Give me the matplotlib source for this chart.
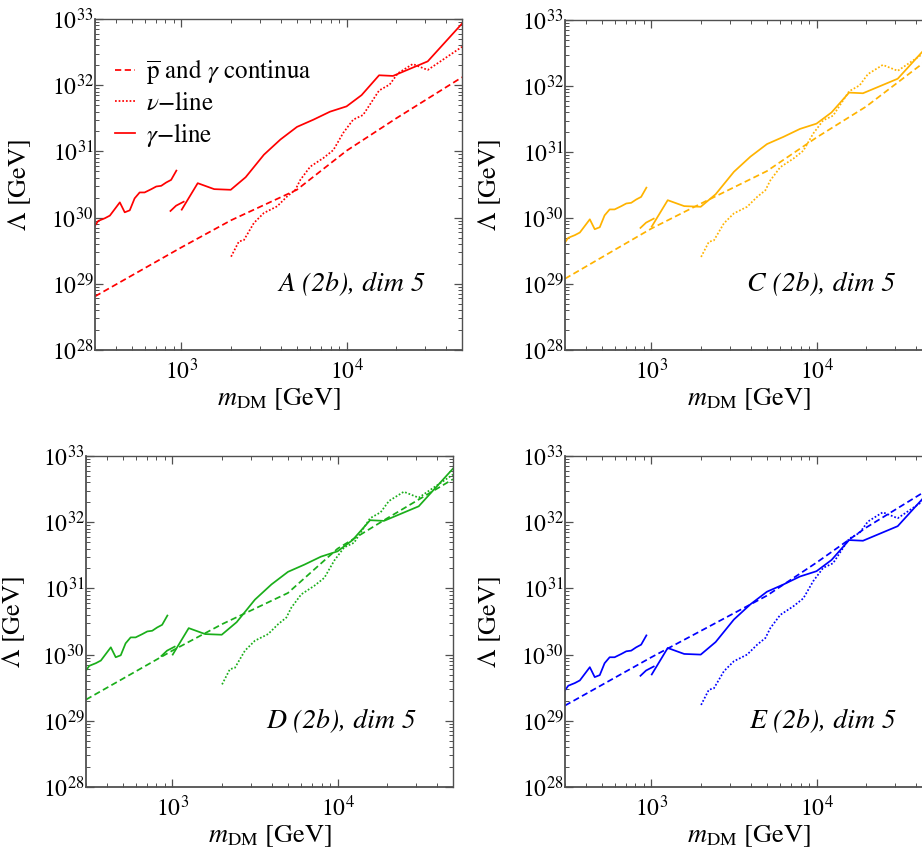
import numpy as np
import matplotlib
matplotlib.use("Agg")
import matplotlib.pyplot as plt
from matplotlib.ticker import LogLocator, NullFormatter
from matplotlib.lines import Line2D

plt.rcParams['font.family'] = ['STIXGeneral', 'DejaVu Serif']
plt.rcParams['mathtext.fontset'] = 'stix'

# ---------------- data (log10 of Lambda in GeV) ----------------
# gamma-line masses [GeV], three pieces
gam_m1 = [300, 314, 344, 369, 424, 454, 487, 521, 559, 599, 658, 705, 755, 809, 867, 933]
gam_m2 = [859, 929, 1033]
gam_m3 = [1005, 1256, 1580, 1990, 2450, 3160, 3980, 5010, 6310, 7940, 10000, 12330, 15740, 19100, 31000, 50000]
# nu-line masses [GeV]
nu_m = [2000, 2230, 2390, 2750, 3160, 3800, 4370, 4900, 5250, 6030, 7240, 8320, 9550, 10970,
        12590, 15740, 18240, 20460, 25180, 31000, 50000]
# continua masses [GeV]
cont_m = [300, 1000, 2000, 5000, 10000, 20000, 50000]

# Panel A
A_gam1 = [29.88, 29.95, 29.99, 30.03, 30.23, 30.08, 30.11, 30.29, 30.38, 30.38, 30.43, 30.47, 30.48, 30.53, 30.57, 30.71]
A_gam2 = [30.10, 30.18, 30.24]
A_gam3 = [30.12, 30.52, 30.43, 30.42, 30.61, 30.95, 31.18, 31.37, 31.48, 31.60, 31.68, 31.85, 32.15, 32.14, 32.36, 32.93]
A_nu = [29.41, 29.64, 29.66, 29.92, 30.07, 30.17, 30.32, 30.42, 30.57, 30.77, 30.90, 31.02, 31.28, 31.48,
        31.55, 31.92, 32.01, 32.18, 32.32, 32.23, 32.58]
A_cont = [28.81, 29.55, 29.96, 30.42, 31.01, 31.50, 32.12]

# Panel C
C_gam1 = [29.63, 29.70, 29.74, 29.78, 29.98, 29.83, 29.86, 30.04, 30.13, 30.13, 30.18, 30.22, 30.23, 30.28, 30.32, 30.46]
C_gam2 = [29.85, 29.93, 29.99]
C_gam3 = [29.87, 30.27, 30.18, 30.17, 30.36, 30.70, 30.93, 31.12, 31.23, 31.35, 31.43, 31.60, 31.90, 31.89, 32.11, 32.68]
C_nu = [29.41, 29.64, 29.66, 29.92, 30.07, 30.17, 30.32, 30.42, 30.57, 30.77, 30.90, 31.02, 31.28, 31.48,
        31.55, 31.92, 32.01, 32.18, 32.32, 32.23, 32.58]
C_cont = [29.08, 29.84, 30.22, 30.71, 31.22, 31.69, 32.45]

# Panel D
D_gam1 = [29.76, 29.83, 29.87, 29.91, 30.11, 29.96, 29.99, 30.17, 30.26, 30.26, 30.31, 30.35, 30.36, 30.41, 30.45, 30.59]
D_gam2 = [29.98, 30.06, 30.12]
D_gam3 = [30.00, 30.40, 30.31, 30.30, 30.49, 30.83, 31.06, 31.25, 31.36, 31.48, 31.56, 31.73, 32.03, 32.02, 32.24, 32.81]
D_nu = [29.55, 29.78, 29.80, 30.06, 30.21, 30.31, 30.46, 30.56, 30.71, 30.91, 31.04, 31.16, 31.42, 31.62,
        31.69, 32.06, 32.15, 32.32, 32.46, 32.37, 32.72]
D_cont = [29.32, 30.06, 30.46, 30.93, 31.60, 32.06, 32.65]

# Panel E
E_gam1 = [29.46, 29.53, 29.57, 29.61, 29.81, 29.66, 29.69, 29.87, 29.96, 29.96, 30.01, 30.05, 30.06, 30.11, 30.15, 30.29]
E_gam2 = [29.68, 29.76, 29.82]
E_gam3 = [29.70, 30.10, 30.01, 30.00, 30.19, 30.53, 30.76, 30.95, 31.06, 31.18, 31.26, 31.43, 31.73, 31.72, 31.94, 32.51]
E_nu = [29.24, 29.47, 29.49, 29.75, 29.90, 30.00, 30.15, 30.25, 30.40, 30.60, 30.73, 30.85, 31.11, 31.31,
        31.38, 31.75, 31.84, 32.01, 32.15, 32.06, 32.41]
E_cont = [29.23, 29.96, 30.36, 30.89, 31.39, 31.92, 32.53]

panel_labels = ["A", "C", "D", "E"]
panel_colors = ["#ff0000", "#ffb300", "#1aae1a", "#0000ff"]
legend_labels = [r"$\overline{\mathrm{p}}$ and $\gamma$ continua", "$\\nu$\u2212line", "$\\gamma$\u2212line"]

panels = {
    "A": (A_gam1, A_gam2, A_gam3, A_nu, A_cont),
    "C": (C_gam1, C_gam2, C_gam3, C_nu, C_cont),
    "D": (D_gam1, D_gam2, D_gam3, D_nu, D_cont),
    "E": (E_gam1, E_gam2, E_gam3, E_nu, E_cont),
}

# ---------------- layout ----------------
W, H = 922, 850
fig = plt.figure(figsize=(W / 100, H / 100), dpi=100)
boxes = {
    "A": (95, 19, 367, 331),
    "C": (565, 20, 367, 330),
    "D": (86, 456, 367, 331),
    "E": (565, 456, 367, 331),
}

dash = (0, (3.6, 2.0))
dot = (0, (1.0, 1.1))
lw = 1.25
frame_col = "#505050"

for name, col in zip(panel_labels, panel_colors):
    x0, y0, w, h = boxes[name]
    ax = fig.add_axes([x0 / W, 1 - (y0 + h) / H, w / W, h / H])
    g1, g2, g3, nu, cont = panels[name]
    ax.plot(cont_m, 10 ** np.array(cont), color=col, lw=lw, ls=dash)
    ax.plot(nu_m, 10 ** np.array(nu), color=col, lw=lw, ls=dot)
    ax.plot(gam_m1, 10 ** np.array(g1), color=col, lw=lw, ls='-')
    ax.plot(gam_m2, 10 ** np.array(g2), color=col, lw=lw, ls='-')
    ax.plot(gam_m3, 10 ** np.array(g3), color=col, lw=lw, ls='-')

    ax.set_xscale('log')
    ax.set_yscale('log')
    ax.set_xlim(300, 50000)
    ax.set_ylim(1e28, 1e33)

    ax.xaxis.set_major_locator(LogLocator(base=10, numticks=10))
    ax.xaxis.set_minor_locator(LogLocator(base=10, subs=np.arange(2, 10), numticks=20))
    ax.yaxis.set_major_locator(LogLocator(base=10, numticks=10))
    ax.yaxis.set_minor_locator(LogLocator(base=10, subs=np.arange(2, 10), numticks=20))
    ax.xaxis.set_minor_formatter(NullFormatter())
    ax.yaxis.set_minor_formatter(NullFormatter())

    for side, sp in ax.spines.items():
        sp.set_color(frame_col)
        sp.set_linewidth(1.3 if side in ("left", "bottom") else 1.0)
    ax.tick_params(which='both', direction='in', top=True, right=True, color=frame_col)
    ax.tick_params(which='major', length=6, width=0.9, labelsize=17)
    ax.tick_params(which='minor', length=3, width=0.7)
    ax.tick_params(axis='x', which='major', pad=6)
    ax.tick_params(axis='y', which='major', pad=1)

    ax.set_xlabel(r"$m_{\mathrm{DM}}$ [GeV]", fontsize=19)
    ax.set_ylabel(r"$\Lambda$ [GeV]", fontsize=19)
    ax.xaxis.set_label_coords(0.5, -0.11)
    ax.yaxis.set_label_coords(-0.17 if name != "D" else -0.162, 0.5)

    ax.text(0.9, 0.197, "%s (2b), dim 5" % name, transform=ax.transAxes,
            ha='right', va='center', fontsize=20, fontstyle='italic')

    if name == "A":
        handles = [Line2D([], [], color=col, lw=lw, ls=dash),
                   Line2D([], [], color=col, lw=lw, ls=dot),
                   Line2D([], [], color=col, lw=lw, ls='-')]
        ax.legend(handles, legend_labels, loc='upper left', bbox_to_anchor=(0.055, 0.885),
                  frameon=False, fontsize=18, handlelength=0.8, handletextpad=0.45,
                  labelspacing=0.2, borderpad=0, borderaxespad=0)

fig.savefig("out.png", dpi=100)
